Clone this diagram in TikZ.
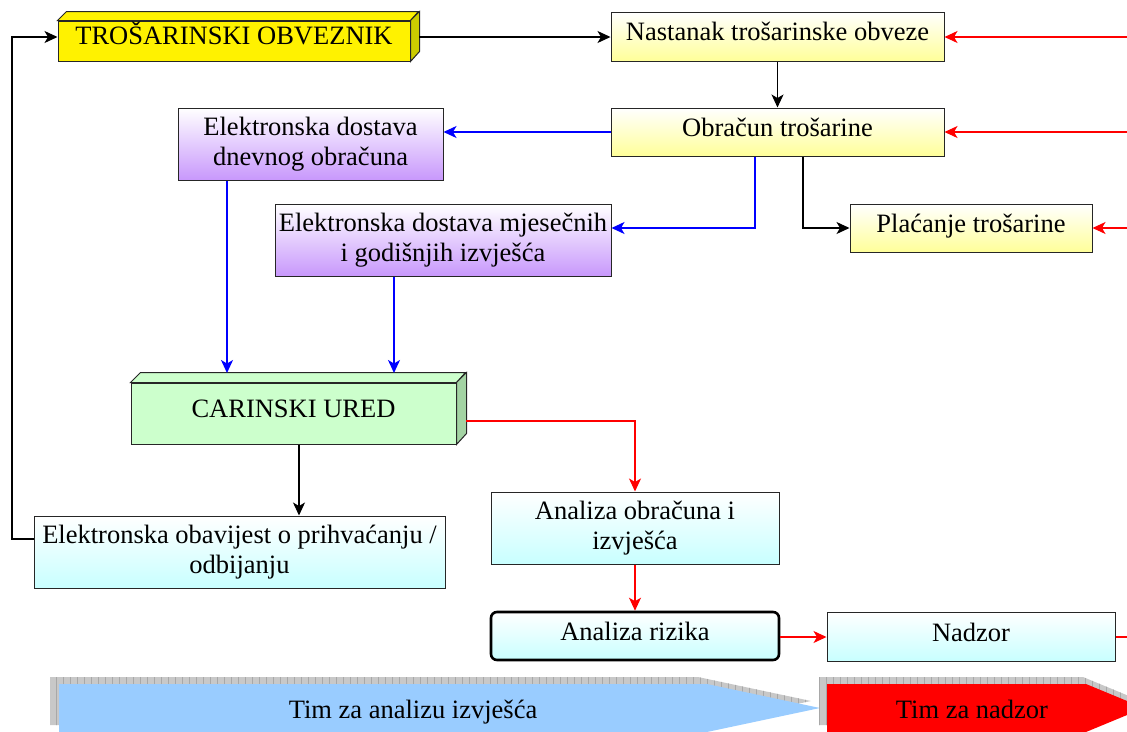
\documentclass[tikz,border=0pt]{standalone}
\usepackage{fontspec}
\setmainfont{Liberation Serif}
\usetikzlibrary{arrows.meta}
\definecolor{ylw}{HTML}{FFFF99}
\definecolor{pur}{HTML}{C898FC}
\definecolor{cyn}{HTML}{C8FFFF}
\definecolor{grnF}{HTML}{CCFFCC}
\definecolor{grnS}{HTML}{A3D3A3}
\definecolor{yelS}{HTML}{CCCC00}
\definecolor{bluA}{HTML}{99CCFF}
\definecolor{shd}{HTML}{C8C8C8}
\definecolor{shdln}{HTML}{A8A8A8}
\definecolor{lnblue}{HTML}{0000FF}
\definecolor{lnred}{HTML}{FF0000}
\begin{document}
\begin{tikzpicture}[x=1pt,y=-1pt,
  box/.style={draw=black!85, line width=1pt, inner sep=0pt, align=center,
    font=\fontsize{26.5}{30}\selectfont},
  one/.style={text height=20pt, text depth=12pt},
  yb/.style={box, top color=white, bottom color=ylw},
  pb/.style={box, top color=white, bottom color=pur},
  cb/.style={box, top color=white, bottom color=cyn},
  tip/.style={-{Stealth[length=13pt,width=12pt,inset=3.5pt]}},
  kln/.style={draw=black, line width=1.2pt},
  rln/.style={draw=lnred, line width=1.2pt},
  bln/.style={draw=lnblue, line width=1.4pt},
  lbl/.style={font=\fontsize{26.5}{30}\selectfont, inner sep=0pt, anchor=base}
]
\useasboundingbox (0,0) rectangle (1127,731);

% --- 3D box: TROSARINSKI OBVEZNIK
\node[box, fill=yellow, minimum width=352pt, minimum height=40pt, text depth=14pt, text height=20pt] (tro) at (234,41) {TROŠARINSKI OBVEZNIK};
\filldraw[fill=yellow, draw=black!85, line width=1pt] (tro.north west) -- ++(9,-9) -- ++(352,0) -- (tro.north east) -- cycle;
\filldraw[fill=yelS, draw=black!85, line width=1pt] (tro.north east) -- ++(9,-9) -- ++(0,40) -- (tro.south east) -- cycle;

% --- 3D box: CARINSKI URED
\node[box, one, fill=grnF, minimum width=325pt, minimum height=61pt] (car) at (293.5,413.5) {CARINSKI URED};
\filldraw[fill=grnF, draw=black!85, line width=1pt] (car.north west) -- ++(10,-10) -- ++(325,0) -- (car.north east) -- cycle;
\filldraw[fill=grnS, draw=black!85, line width=1pt] (car.north east) -- ++(10,-10) -- ++(0,61) -- (car.south east) -- cycle;

% --- plain boxes
\node[yb, one, minimum width=333pt, minimum height=49pt] (nast) at (777.5,36.5) {Nastanak trošarinske obveze};
\node[yb, one, minimum width=333pt, minimum height=48pt] (obr) at (777.5,132) {Obračun trošarine};
\node[pb, minimum width=265pt, minimum height=72pt] (dnev) at (310.5,144) {Elektronska dostava\\dnevnog obračuna};
\node[pb, minimum width=336pt, minimum height=72pt] (mjes) at (443,240) {Elektronska dostava mjesečnih\\i godišnjih izvješća};
\node[yb, one, minimum width=242pt, minimum height=48pt] (plac) at (971,228) {Plaćanje trošarine};
\node[cb, minimum width=411pt, minimum height=72pt] (obav) at (239.5,552) {Elektronska obavijest o prihvaćanju /\\odbijanju};
\node[cb, minimum width=288pt, minimum height=72pt] (ana) at (635,528) {Analiza obračuna i\\izvješća};
\node[cb, one, minimum width=288pt, minimum height=48pt, rounded corners=6pt, line width=2.6pt, draw=black] (riz) at (635,636) {Analiza rizika};
\node[cb, one, minimum width=288pt, minimum height=49pt, text height=22pt, text depth=12pt] (nad) at (971,636.5) {Nadzor};

% --- helper coordinates
\coordinate (troside) at (419,37);
\coordinate (r1) at (1127,37);
\coordinate (r2) at (1127,132);
\coordinate (r3) at (1127,228);
\coordinate (r4) at (1127,637);
\coordinate (b1) at (755,228);
\coordinate (k1) at (803,228);
\coordinate (d1) at (227,373);
\coordinate (d2) at (394,373);
\coordinate (c1) at (299,444);
\coordinate (o1) at (12,539);
\coordinate (o2) at (12,37);
\coordinate (cside) at (466,421);
\coordinate (a1) at (635,421);

% --- connectors
\draw[kln, tip] (troside) -- (troside -| nast.west);
\draw[kln, tip] (nast.south) -- (obr.north);
\draw[rln, tip] (r1) -- (r1 -| nast.east);
\draw[rln, tip] (r2) -- (r2 -| obr.east);
\draw[rln, tip] (r3) -- (r3 -| plac.east);
\draw[bln, tip] (obr.west) -- (obr.west -| dnev.east);
\draw[bln, tip] (b1 |- obr.south) -- (b1) -- (b1 -| mjes.east);
\draw[kln, tip] (k1 |- obr.south) -- (k1) -- (k1 -| plac.west);
\draw[bln, tip] (d1 |- dnev.south) -- (d1);
\draw[bln, tip] (d2 |- mjes.south) -- (d2);
\draw[kln, tip] (c1 |- car.south) -- (c1 |- obav.north);
\draw[kln, tip] (o1 -| obav.west) -- (o1) -- (o2) -- (o2 -| tro.west);
\draw[rln, tip] (cside) -- (a1) -- (ana.north);
\draw[rln, tip] (ana.south) -- (riz.north);
\draw[rln, tip] (r4 -| riz.east) -- (r4 -| nad.west);
\draw[rln] (r4 -| nad.east) -- (r4);

% --- bottom banners
\begin{scope}
\clip (0,0) rectangle (1127,731);
\begin{scope}
  \clip (50,677) -- (698,677) -- (811,701) -- (698,725) -- (50,725) -- cycle;
  \fill[shd] (40,670) rectangle (830,740);
  \draw[shdln, line width=0.4pt, step=7] (43,670) grid (830,740);
\end{scope}
\fill[bluA] (59,684) -- (707,684) -- (820,708) -- (707,732) -- (59,732) -- cycle;
\begin{scope}
  \clip (819,677) -- (1083,677) -- (1141,701) -- (1083,725) -- (819,725) -- cycle;
  \fill[shd] (810,670) rectangle (1140,740);
  \draw[shdln, line width=0.4pt, step=7] (812,670) grid (1140,740);
\end{scope}
\fill[lnred] (827,684) -- (1086,684) -- (1144,708) -- (1086,732) -- (827,732) -- cycle;
\end{scope}
\node[lbl] (tima) at (413,718) {Tim za analizu izvješća};
\node[lbl] (timn) at (972,718) {Tim za nadzor};
\end{tikzpicture}
\end{document}
